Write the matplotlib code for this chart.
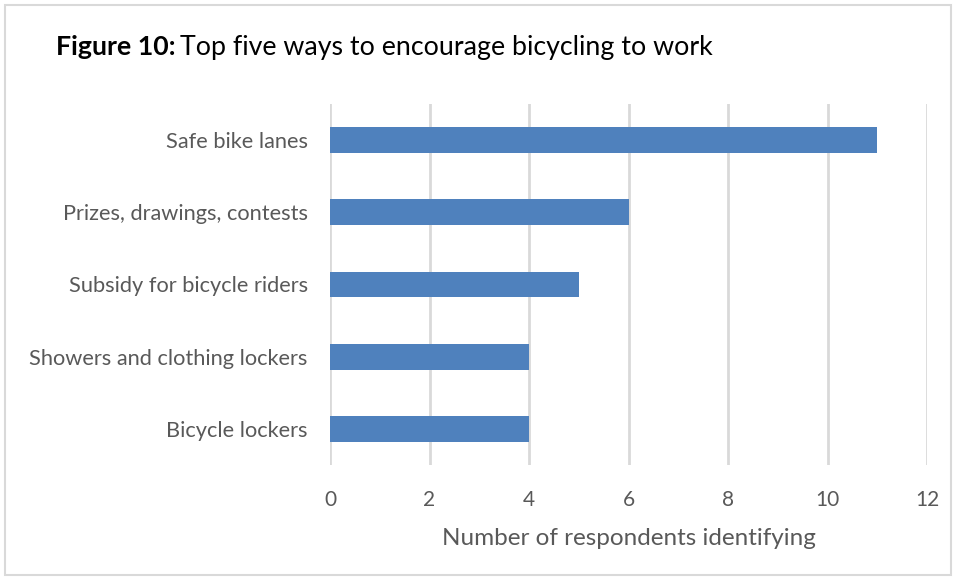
import matplotlib.pyplot as plt
from matplotlib.patches import Rectangle

# Datos
categorias = ['Safe bike lanes', 'Prizes, drawings, contests', 'Subsidy for bicycle riders',
              'Showers and clothing lockers', 'Bicycle lockers']
valores = [11, 6, 5, 4, 4]
ticks_x = [0, 2, 4, 6, 8, 10, 12]

plt.rcParams['font.family'] = ['Lato', 'DejaVu Sans']

fig = plt.figure(figsize=(9.56, 5.79), dpi=100)
ax = fig.add_axes([330 / 956, 1 - 465 / 579, (927 - 330) / 956, (465 - 104) / 579])

gris_texto = '#595959'
posiciones = list(range(len(categorias)))
ax.barh(posiciones, valores, height=0.36, color='#4F81BD', zorder=3)

ax.set_ylim(len(categorias) - 0.5, -0.5)
ax.set_xlim(0, 12)
ax.set_xticks(ticks_x)
ax.set_yticks(posiciones)
ax.set_yticklabels(categorias, fontsize=15.7, color=gris_texto)
ax.tick_params(axis='x', labelsize=15, labelcolor=gris_texto, length=0, pad=18)
ax.tick_params(axis='y', length=0, pad=16)
ax.grid(axis='x', color='#d9d9d9', linewidth=2, zorder=0)
for lado in ax.spines.values():
    lado.set_visible(False)

ax.set_xlabel('Number of respondents identifying', fontsize=17.5, color=gris_texto, labelpad=13)

# Título con parte en negrita
t1 = fig.text(56 / 956, 1 - 47 / 579, 'Figure 10:', fontsize=19.3, fontweight='bold',
              va='center', ha='left', color='black')
fig.canvas.draw()
bb = t1.get_window_extent()
fig.text(bb.x1 / 956 + 0.005, 1 - 47 / 579, 'Top five ways to encourage bicycling to work',
         fontsize=19.3, va='center', ha='left', color='black')

# Marco exterior
fig.patches.append(Rectangle((5 / 956, 4 / 579), 946 / 956, 570 / 579, transform=fig.transFigure,
                             fill=False, edgecolor='#d9d9d9', linewidth=1.5))

fig.savefig('out.png', dpi=100)
